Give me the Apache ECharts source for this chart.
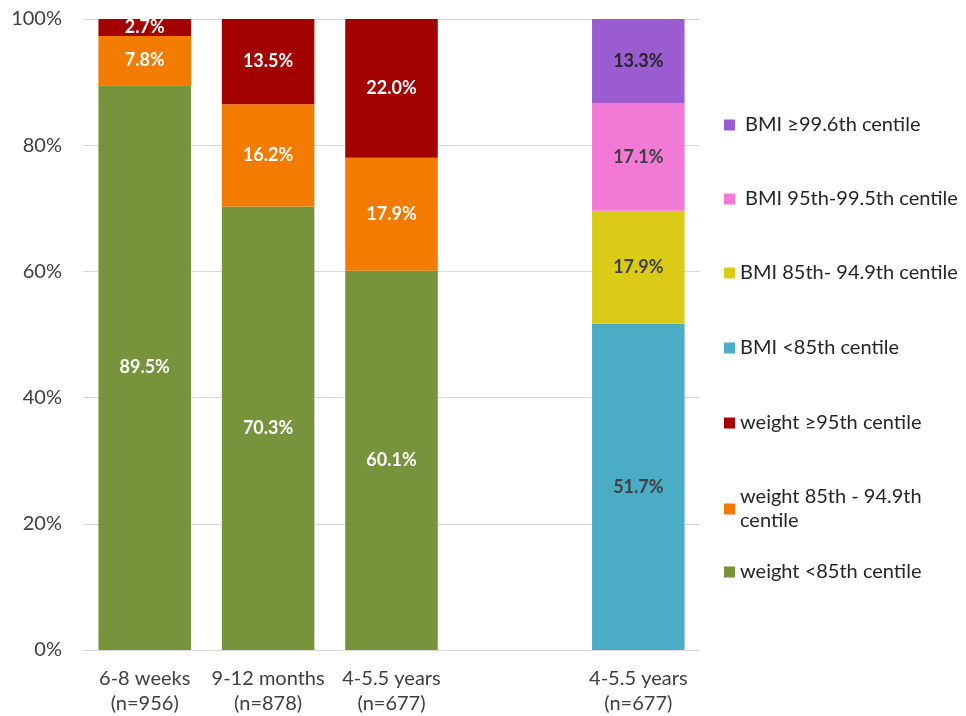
<!DOCTYPE html>
<html>
<head>
<meta charset="utf-8">
<script src="https://cdn.jsdelivr.net/npm/echarts@6/dist/echarts.min.js"></script>
<style>
  html, body { margin: 0; padding: 0; background: #fff; }
  #main { width: 966px; height: 716px; }
</style>
</head>
<body>
<div id="main"></div>
<script>
// x categories (4th slot is an empty spacer)
const categories = ["6-8 weeks\n(n=956)", "9-12 months\n(n=878)", "4-5.5 years\n(n=677)", "", "4-5.5 years\n(n=677)"];
const yTicks = [0, 20, 40, 60, 80, 100];

// weight centile groups, %
const weightLt85 = [89.5, 70.3, 60.1, null, null];
const weight85to94 = [7.8, 16.2, 17.9, null, null];
const weightGe95 = [2.7, 13.5, 22.0, null, null];

// BMI centile groups, %
const bmiLt85 = [null, null, null, null, 51.7];
const bmi85to94 = [null, null, null, null, 17.9];
const bmi95to99 = [null, null, null, null, 17.1];
const bmiGe996 = [null, null, null, null, 13.3];

const names = [
  "weight <85th centile",
  "weight 85th - 94.9th centile",
  "weight \u226595th centile",
  "BMI <85th centile",
  "BMI 85th- 94.9th centile",
  "BMI 95th-99.5th centile",
  "BMI \u226599.6th centile"
];
const values = [weightLt85, weight85to94, weightGe95, bmiLt85, bmi85to94, bmi95to99, bmiGe996];
const colors = ["#77933c", "#f27b00", "#a30000", "#4bacc6", "#dccb16", "#f27ad6", "#9b5bd1"];
const labelColors = ["#fff", "#fff", "#fff", "#404040", "#404040", "#404040", "#262626"];

const font = "Lato, 'Open Sans', sans-serif";

const series = names.map((n, i) => ({
  name: n,
  type: "bar",
  stack: "total",
  barCategoryGap: "25%",
  data: values[i],
  itemStyle: { color: colors[i] },
  label: {
    show: true,
    position: "inside",
    formatter: p => p.value.toFixed(1) + "%",
    color: labelColors[i],
    fontFamily: font,
    fontWeight: "bold",
    fontSize: 18
  }
}));

// legend: one per entry, top-to-bottom order as in the figure
const legendOrder = [6, 5, 4, 3, 2, 1, 0];
const legendTops = [113, 187, 261, 336, 411, 485, 560];
const legends = legendOrder.map((idx, k) => ({
  data: [names[idx]],
  left: 724,
  top: legendTops[k],
  padding: 0,
  itemWidth: 11,
  itemHeight: 11,
  icon: "rect",
  selectedMode: false,
  formatter: nm => {
    if (idx === 1) return "weight 85th - 94.9th\ncentile";
    if (idx >= 5) return " " + nm;
    return nm;
  },
  textStyle: { fontFamily: font, fontSize: 20, color: "#262626", lineHeight: 24 }
}));

const chart = echarts.init(document.getElementById("main"));
chart.setOption({
  animation: false,
  legend: legends,
  grid: { left: 83, right: 266, top: 19, bottom: 64 },
  xAxis: {
    type: "category",
    data: categories,
    axisLine: { lineStyle: { color: "#d9d9d9" } },
    axisTick: { show: false },
    axisLabel: { fontFamily: font, fontSize: 20, color: "#404040", lineHeight: 25, margin: 16, interval: 0 }
  },
  yAxis: {
    type: "value",
    min: yTicks[0],
    max: yTicks[yTicks.length - 1],
    interval: 20,
    axisLine: { show: false },
    axisTick: { show: false },
    splitLine: { lineStyle: { color: "#d9d9d9" } },
    axisLabel: { formatter: "{value}%", fontFamily: font, fontSize: 20, color: "#404040", margin: 21 }
  },
  series: series
});
</script>
</body>
</html>
